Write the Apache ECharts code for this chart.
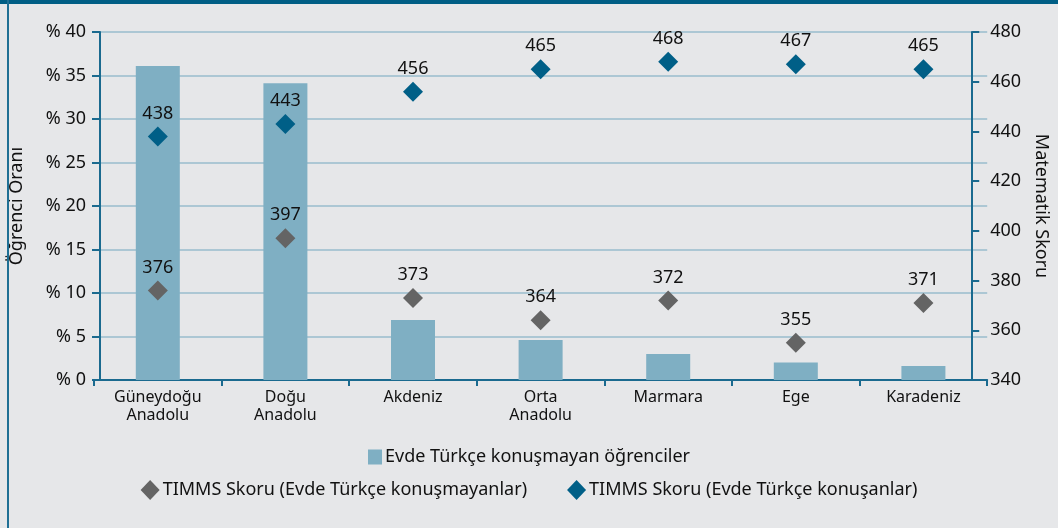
<!DOCTYPE html>
<html>
<head>
<meta charset="utf-8">
<script src="https://cdn.jsdelivr.net/npm/echarts@6/dist/echarts.min.js"></script>
<style>
  html, body { margin: 0; padding: 0; background: #e6e7e9; }
  #wrap { position: relative; width: 1058px; height: 528px; }
  #chart { position: absolute; left: 0; top: 0; width: 1058px; height: 528px; }
  .topbar { position: absolute; left: 0; top: 0; width: 1058px; height: 4px; background: #005e85; z-index: 5; }
  .leftbar { position: absolute; left: 7px; top: 0; width: 2px; height: 528px; background: #1f6f94; z-index: 5; }
</style>
</head>
<body>
<div id="wrap">
  <div id="chart"></div>
  <div class="topbar"></div>
  <div class="leftbar"></div>
</div>
<script>
// bölgeler
var regions = ['Güneydoğu\nAnadolu', 'Doğu\nAnadolu', 'Akdeniz', 'Orta\nAnadolu', 'Marmara', 'Ege', 'Karadeniz'];
// evde Türkçe konuşmayan öğrenci oranı (%)
var shareNonTurkish = [36.1, 34.1, 6.9, 4.6, 3.0, 2.0, 1.6];
// TIMMS skorları
var scoreNonTurkish = [376, 397, 373, 364, 372, 355, 371];
var scoreTurkish = [438, 443, 456, 465, 468, 467, 465];

var barName = 'Evde Türkçe konuşmayan öğrenciler';
var grayName = 'TIMMS Skoru (Evde Türkçe konuşmayanlar)';
var blueName = 'TIMMS Skoru (Evde Türkçe konuşanlar)';

var fontFam = '"Noto Sans", "DejaVu Sans", sans-serif';
var axisBlue = '#1a6a8f';
var textCol = '#111111';

var chart = echarts.init(document.getElementById('chart'), null, { renderer: 'canvas' });
var option = {
  backgroundColor: '#e6e7e9',
  textStyle: { fontFamily: fontFam, color: textCol },
  animation: false,
  legend: [
    {
      data: [barName],
      top: 443,
      left: 'center',
      itemWidth: 14,
      itemHeight: 15,
      itemGap: 6,
      icon: 'rect',
      textStyle: { fontSize: 18, color: textCol, fontFamily: fontFam, padding: [0, 0, 0, -2] }
    },
    {
      data: [grayName, blueName],
      top: 475,
      left: 'center',
      itemGap: 40,
      itemWidth: 19,
      itemHeight: 20,
      icon: 'diamond',
      textStyle: { fontSize: 18, color: textCol, fontFamily: fontFam, padding: [0, 0, 0, -2] }
    }
  ],
  grid: { left: 91, right: 66, top: 32, bottom: 148 },
  xAxis: {
    type: 'category',
    data: regions,
    axisLine: { lineStyle: { color: axisBlue, width: 2 } },
    axisTick: { show: true, length: 6, lineStyle: { color: axisBlue, width: 2 } },
    axisLabel: { fontSize: 16, color: textCol, margin: 8, lineHeight: 18 }
  },
  yAxis: [
    {
      type: 'value',
      min: 0,
      max: 40,
      interval: 5,
      offset: -6,
      name: 'Öğrenci Oranı',
      nameLocation: 'middle',
      nameGap: 74,
      nameTextStyle: { fontSize: 18, color: textCol },
      axisLine: { show: true, lineStyle: { color: axisBlue, width: 2 } },
      axisTick: { show: true, length: 8, lineStyle: { color: axisBlue, width: 2 } },
      axisLabel: { fontSize: 18, color: textCol, margin: 14, formatter: '% {value}' },
      splitLine: { show: true, lineStyle: { color: '#99bccd', width: 1.5 } }
    },
    {
      type: 'value',
      min: 340,
      max: 480,
      interval: 20,
      offset: -15,
      position: 'right',
      name: 'Matematik Skoru',
      nameLocation: 'middle',
      nameGap: 58,
      nameRotate: -90,
      nameTextStyle: { fontSize: 18, color: textCol },
      axisLine: { show: true, lineStyle: { color: axisBlue, width: 2 } },
      axisTick: { show: true, length: 7, lineStyle: { color: axisBlue, width: 2 } },
      axisLabel: { fontSize: 18, color: textCol, margin: 18 },
      splitLine: { show: false }
    }
  ],
  series: [
    {
      name: barName,
      type: 'bar',
      data: shareNonTurkish,
      barWidth: 44,
      itemStyle: { color: '#7fafc3' },
      yAxisIndex: 0
    },
    {
      name: grayName,
      type: 'scatter',
      data: scoreNonTurkish,
      yAxisIndex: 1,
      symbol: 'diamond',
      symbolSize: 20,
      itemStyle: { color: '#646464', opacity: 1 },
      label: { show: true, position: 'top', distance: 4, fontSize: 18, color: textCol }
    },
    {
      name: blueName,
      type: 'scatter',
      data: scoreTurkish,
      yAxisIndex: 1,
      symbol: 'diamond',
      symbolSize: 20,
      itemStyle: { color: '#005f87', opacity: 1 },
      label: { show: true, position: 'top', distance: 4, fontSize: 18, color: textCol }
    }
  ]
};
chart.setOption(option);
</script>
</body>
</html>
